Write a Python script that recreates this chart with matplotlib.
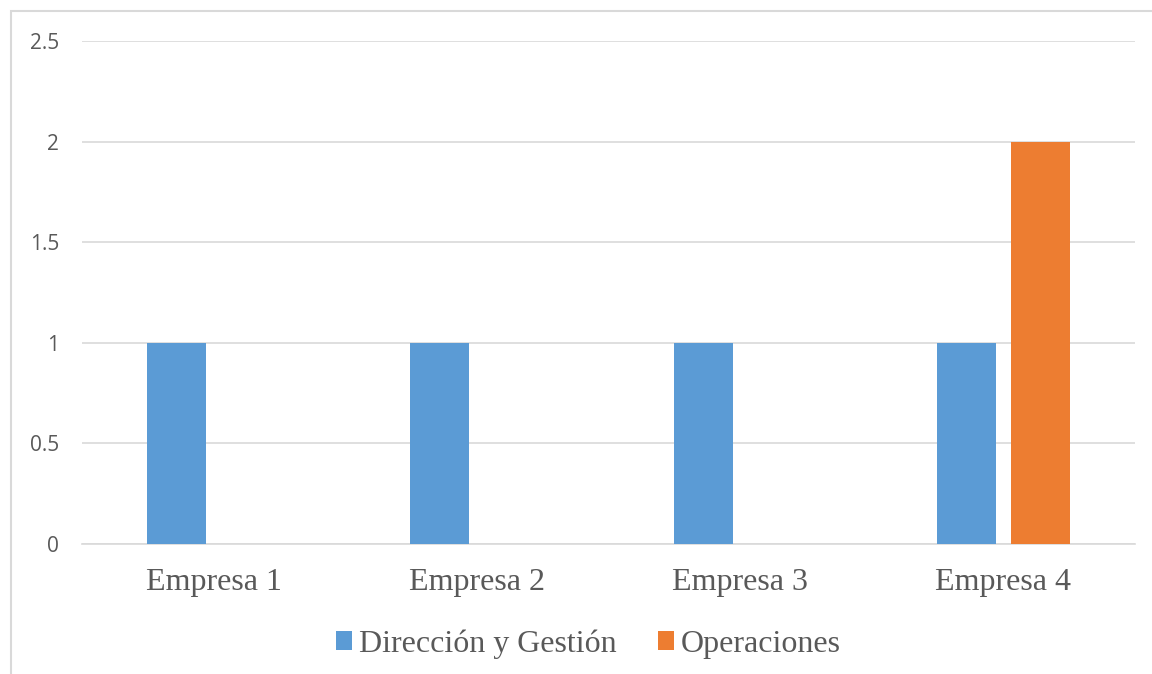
import numpy as np
import matplotlib.pyplot as plt
from matplotlib.patches import Rectangle

categories = ['Empresa 1', 'Empresa 2', 'Empresa 3', 'Empresa 4']
direccion = [1, 1, 1, 1]
operaciones = [0, 0, 0, 2]
yticks = [0, 0.5, 1, 1.5, 2, 2.5]
ytick_labels = ['0', '0.5', '1', '1.5', '2', '2.5']

blue = '#5b9bd5'
orange = '#ed7d31'
grey = '#595959'

fig = plt.figure(figsize=(11.52, 6.74), dpi=100)
ax = fig.add_axes([82 / 1152, 1 - 544 / 674, (1135 - 82) / 1152, (544 - 41) / 674])

# chart frame (only top/left edges fall inside the picture)
fig.patches.append(Rectangle((11 / 1152, -0.1), 1.2, 1 - 11 / 674 + 0.1,
                             transform=fig.transFigure, fill=False,
                             edgecolor='#d9d9d9', linewidth=1.5))

x = np.arange(len(categories))
w = 0.224
off = 0.1406
ax.bar(x - off, direccion, w, color=blue, label='Dirección y Gestión', zorder=3)
ax.bar(x + off, operaciones, w, color=orange, label='Operaciones', zorder=3)

ax.set_xlim(-0.5, 3.5)
ax.set_ylim(0, 2.5)
ax.set_yticks(yticks)
ax.set_yticklabels(ytick_labels, family='Open Sans', fontsize=15, color=grey)
ax.set_xticks(x)
ax.set_xticklabels(categories, family='Liberation Serif', fontsize=23, color=grey)
ax.tick_params(length=0)
ax.tick_params(axis='y', pad=16.5)
ax.tick_params(axis='x', pad=17.5)
ax.yaxis.grid(True, color='#d9d9d9', linewidth=1.2, zorder=0)
for s in ['top', 'right', 'left']:
    ax.spines[s].set_visible(False)
ax.spines['bottom'].set_color('#d9d9d9')
ax.spines['bottom'].set_linewidth(1.2)

leg = fig.legend(loc='center', bbox_to_anchor=(588.5 / 1152, 1 - 644 / 674), ncol=2,
                 frameon=False, prop={'family': 'Liberation Serif', 'size': 23},
                 handlelength=0.5, handleheight=0.5, handletextpad=0.22,
                 columnspacing=1.3, borderpad=0)
for t in leg.get_texts():
    t.set_color(grey)

fig.savefig('out.png', dpi=100)
